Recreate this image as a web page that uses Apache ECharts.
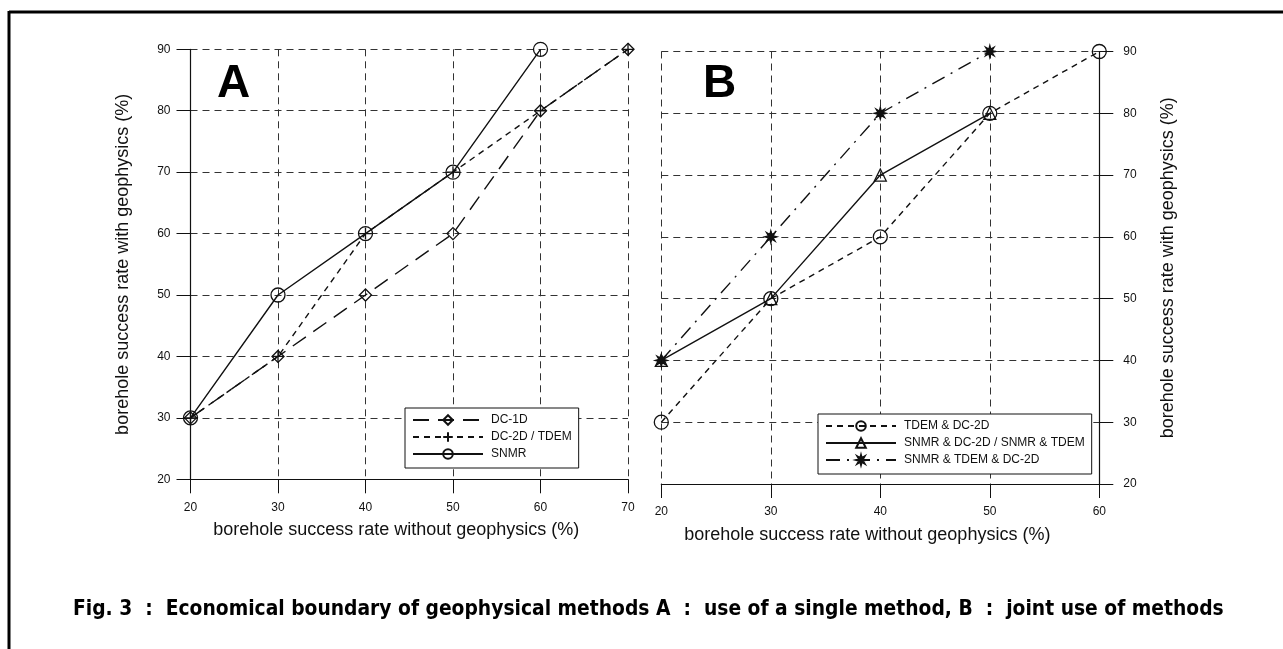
<!DOCTYPE html>
<html>
<head>
<meta charset="utf-8">
<script src="https://cdn.jsdelivr.net/npm/echarts@6/dist/echarts.min.js"></script>
<style>
html,body{margin:0;padding:0;background:#fff;}
#main{width:1283px;height:649px;}
</style>
</head>
<body>
<div id="main"></div>
<script>
// ---- Data ----
const xTicksA = [20, 30, 40, 50, 60, 70];
const xTicksB = [20, 30, 40, 50, 60];
const yTicks = [20, 30, 40, 50, 60, 70, 80, 90];

const dc1dX = [20, 30, 40, 50, 60, 70];
const dc1dY = [30, 40, 50, 60, 80, 90];
const dc2dX = [20, 30, 40, 50, 60, 70];
const dc2dY = [30, 40, 60, 70, 80, 90];
const snmrX = [20, 30, 40, 50, 60];
const snmrY = [30, 50, 60, 70, 90];

const tdemDcX = [20, 30, 40, 50, 60];
const tdemDcY = [30, 50, 60, 80, 90];
const snmrPairX = [20, 30, 40, 50];
const snmrPairY = [40, 50, 70, 80];
const tripleX = [20, 30, 40, 50];
const tripleY = [40, 60, 80, 90];

const namesA = ['DC-1D', 'DC-2D / TDEM', 'SNMR'];
const namesB = ['TDEM & DC-2D', 'SNMR & DC-2D / SNMR & TDEM', 'SNMR & TDEM & DC-2D'];
const xName = 'borehole success rate without geophysics (%)';
const yName = 'borehole success rate with geophysics (%)';
const caption = 'Fig. 3  :  Economical boundary of geophysical methods A  :  use of a single method, B  :  joint use of methods';

const pairs = (xs, ys) => xs.map((x, i) => [x, ys[i]]);

// ---- Symbols ----
const plusPath = 'path://M0,-1 L0,1 M-1,0 L1,0';
const starPts = [];
for (let k = 0; k < 16; k++) {
  const a = (k * 22.5 - 90) * Math.PI / 180;
  const r = k % 2 === 0 ? 1 : 0.42;
  starPts.push((r * Math.cos(a)).toFixed(3) + ',' + (r * Math.sin(a)).toFixed(3));
}
const starPath = 'path://M' + starPts.join(' L') + ' Z';

const FONT = 'Liberation Sans, Arial, Helvetica, sans-serif';
const BLACK = '#111';

function gridLineStyle() {
  return { show: true, lineStyle: { color: '#333', width: 1, type: [7, 5] } };
}

function xAxisCfg(gridIndex, min, max) {
  return {
    type: 'value', gridIndex, min, max, interval: 10,
    name: xName, nameLocation: 'middle', nameGap: 42,
    nameTextStyle: { fontFamily: FONT, fontSize: 18, color: BLACK, padding: [0, 26, 0, 0] },
    axisLine: { show: true, onZero: false, lineStyle: { color: BLACK, width: 1.2 } },
    axisTick: { show: true, inside: false, length: 14, lineStyle: { color: BLACK, width: 1 } },
    axisLabel: { fontFamily: FONT, fontSize: 12, color: BLACK, margin: 22 },
    splitLine: gridLineStyle()
  };
}

function yAxisCfg(gridIndex, position, gap, margin) {
  return {
    type: 'value', gridIndex, position, min: 20, max: 90, interval: 10,
    name: yName, nameLocation: 'middle', nameGap: gap, nameRotate: 90,
    nameTextStyle: { fontFamily: FONT, fontSize: 18, color: BLACK },
    axisLine: { show: true, onZero: false, lineStyle: { color: BLACK, width: 1.2 } },
    axisTick: { show: true, inside: false, length: 14, lineStyle: { color: BLACK, width: 1 } },
    axisLabel: { fontFamily: FONT, fontSize: 12, color: BLACK, margin },
    splitLine: gridLineStyle()
  };
}

function lineSeries(name, data, xi, symbol, size, lineType, filled) {
  return {
    name, type: 'line', xAxisIndex: xi, yAxisIndex: xi, data,
    symbol, symbolSize: size, showSymbol: true,
    lineStyle: { color: BLACK, width: 1.4, type: lineType },
    itemStyle: { color: filled ? BLACK : 'rgba(0,0,0,0)', borderColor: BLACK, borderWidth: 1.3 },
    emphasis: { disabled: true },
    z: 3
  };
}

const chart = echarts.init(document.getElementById('main'), null, { renderer: 'canvas' });

chart.setOption({
  backgroundColor: '#fff',
  animation: false,
  grid: [
    { left: 190.5, right: 655, top: 49.3, bottom: 169.7, containLabel: false },
    { left: 661.3, right: 183.7, top: 51.5, bottom: 165, containLabel: false }
  ],
  xAxis: [xAxisCfg(0, 20, 70), xAxisCfg(1, 20, 60)],
  yAxis: [yAxisCfg(0, 'left', 58, 20), yAxisCfg(1, 'right', 60, 24)],
  legend: [
    {
      data: namesA, orient: 'vertical', left: 405, top: 408,
      itemWidth: 70, itemHeight: 12, itemGap: 5, padding: [6, 7, 8, 7],
      borderColor: BLACK, borderWidth: 1, backgroundColor: '#fff',
      textStyle: { fontFamily: FONT, fontSize: 12, color: BLACK, padding: [0, 0, 0, 3] },
      selectedMode: false
    },
    {
      data: namesB, orient: 'vertical', left: 818, top: 414,
      itemWidth: 70, itemHeight: 12, itemGap: 5, padding: [6, 7, 8, 7],
      borderColor: BLACK, borderWidth: 1, backgroundColor: '#fff',
      textStyle: { fontFamily: FONT, fontSize: 12, color: BLACK, padding: [0, 0, 0, 3] },
      selectedMode: false
    }
  ],
  graphic: [
    { type: 'line', shape: { x1: 9, y1: 12, x2: 1283, y2: 12 }, style: { stroke: '#000', lineWidth: 3 } },
    { type: 'line', shape: { x1: 9, y1: 11, x2: 9, y2: 649 }, style: { stroke: '#000', lineWidth: 3 } },
    { type: 'text', left: 217, top: 61, style: { text: 'A', font: 'bold 46px ' + FONT, fill: '#000' } },
    { type: 'text', left: 703, top: 61, style: { text: 'B', font: 'bold 46px ' + FONT, fill: '#000' } },
    { type: 'text', left: 73, top: 599, style: { text: caption, font: 'bold 20.8px "Liberation Sans Narrow", "DejaVu Sans Condensed", sans-serif', fill: '#000' } }
  ],
  series: [
    lineSeries(namesA[0], pairs(dc1dX, dc1dY), 0, 'diamond', 12, [16, 9], false),
    lineSeries(namesA[1], pairs(dc2dX, dc2dY), 0, plusPath, 12, [6, 5], false),
    lineSeries(namesA[2], pairs(snmrX, snmrY), 0, 'circle', 14, 'solid', false),
    lineSeries(namesB[0], pairs(tdemDcX, tdemDcY), 1, 'circle', 14, [6, 5], false),
    lineSeries(namesB[1], pairs(snmrPairX, snmrPairY), 1, 'triangle', 12, 'solid', false),
    lineSeries(namesB[2], pairs(tripleX, tripleY), 1, starPath, 12, [14, 7, 2, 7], true)
  ]
});
</script>
</body>
</html>
